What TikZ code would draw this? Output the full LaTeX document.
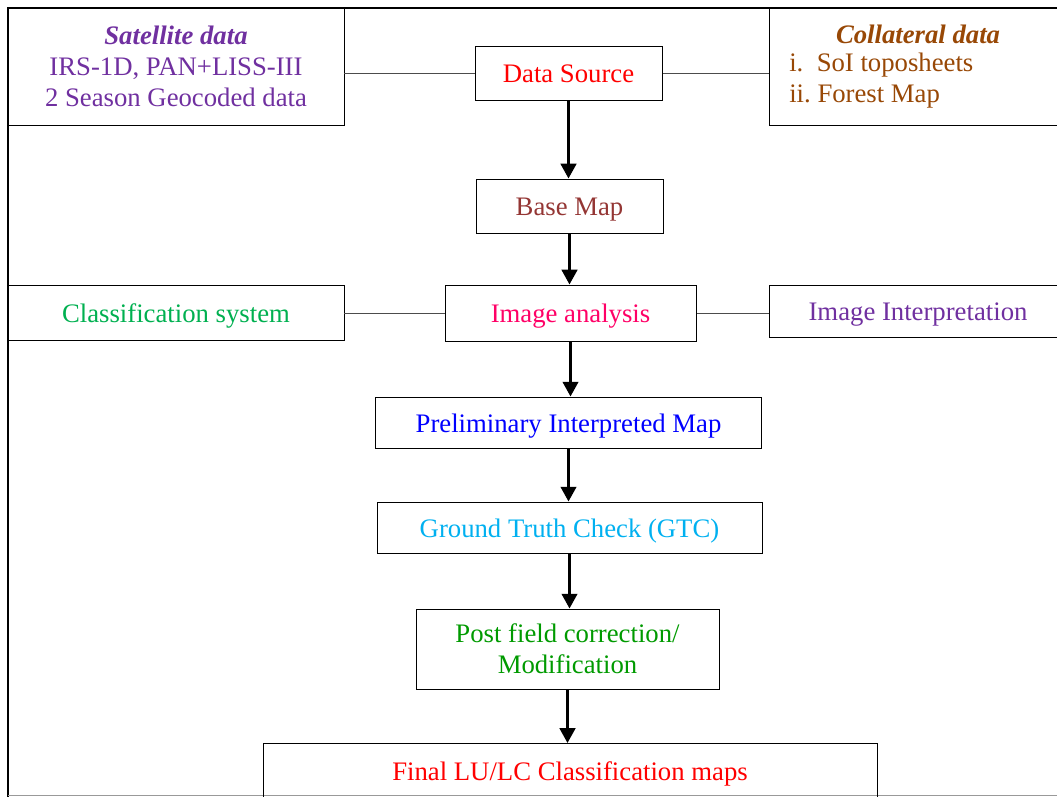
\documentclass[tikz,border=0pt]{standalone}
\usepackage{fontspec}
\setmainfont{Liberation Serif}
\usepackage{xcolor}
\usetikzlibrary{arrows.meta}
\definecolor{satpurple}{HTML}{7030A0}
\definecolor{colbrown}{HTML}{984806}
\definecolor{basered}{HTML}{943634}
\definecolor{clsgreen}{HTML}{00B050}
\definecolor{anapink}{HTML}{FF0066}
\definecolor{gtcblue}{HTML}{00B0F0}
\definecolor{postgreen}{HTML}{009A00}
\tikzset{
	box/.style={draw, line width=0.7pt, inner sep=0pt, align=center,
		text height=17pt, text depth=3pt, font=\fontsize{19}{22}\selectfont},
	txt/.style={inner sep=0pt, align=left, font=\fontsize{19}{22}\selectfont},
}

\begin{document}
\begin{tikzpicture}[x=0.025cm,y=-0.025cm]
	\useasboundingbox (0,0) rectangle (1057,796);
	\draw[line width=1.4pt] (8,1200) -- (8,8) -- (1100,8);
	\draw[line width=0.7pt, black!40] (8,795.5) -- (1100,795.5);
	%
	\node[box, text height=, text depth=, minimum width=336*0.025cm, minimum height=117*0.025cm, text=satpurple] (sat) at (176,66.5)
		{\textbf{\textit{Satellite data}}\\IRS-1D, PAN+LISS-III\\2 Season Geocoded data};
	\node[box, minimum width=298*0.025cm, minimum height=117*0.025cm] (col) at (918,66.5) {};
	\node[txt, text=colbrown] (coltitle) at (918,34) {\textbf{\textit{Collateral data}}};
	\node[txt, text=colbrown, anchor=west] (collist) at (789,81) {i.\ \ SoI toposheets\\ii.\ Forest Map};
	\node[box, minimum width=187*0.025cm, minimum height=54*0.025cm, text=red] (ds) at (568.5,73) {Data Source};
	\node[box, minimum width=187*0.025cm, minimum height=54*0.025cm, text=basered] (base) at (569.5,206) {Base Map};
	%
	\node[box, minimum width=336*0.025cm, minimum height=55*0.025cm, text=clsgreen] (cls) at (176,312.5) {Classification system};
	\node[box, minimum width=251*0.025cm, minimum height=56*0.025cm, text=anapink] (ana) at (570.5,313) {Image analysis};
	\node[box, minimum width=298*0.025cm, minimum height=52*0.025cm, text=satpurple] (intp) at (918,311) {Image Interpretation};
	%
	\node[box, minimum width=386*0.025cm, minimum height=51*0.025cm, text=blue] (prelim) at (568.5,422.5) {Preliminary Interpreted Map};
	\node[box, minimum width=385*0.025cm, minimum height=51*0.025cm, text=gtcblue] (gtc) at (569.5,527.5) {Ground Truth Check (GTC)};
	\node[box, text height=, text depth=, minimum width=303*0.025cm, minimum height=80*0.025cm, text=postgreen] (post) at (567.5,649) {Post field correction/\\Modification};
	\node[box, minimum width=614*0.025cm, minimum height=55*0.025cm, text=red, anchor=north] (final) at (570,743) {Final LU/LC Classification maps};
	%
	\path[line width=0.7pt, draw=black!70]
		(ds.west) edge (ds.west -| sat.east)
		(ds.east) edge (ds.east -| col.west)
		(ana.west) edge (ana.west -| cls.east)
		(ana.east) edge (ana.east -| intp.west);
	\path[-{Triangle[width=11pt,length=10.5pt]}, line width=2pt]
		(ds.south) edge (ds.south |- base.north)
		(base.south) edge (base.south |- ana.north)
		(ana.south) edge (ana.south |- prelim.north)
		(prelim.south) edge (prelim.south |- gtc.north)
		(gtc.south) edge (gtc.south |- post.north)
		(post.south) edge (post.south |- final.north);
\end{tikzpicture}
\end{document}
